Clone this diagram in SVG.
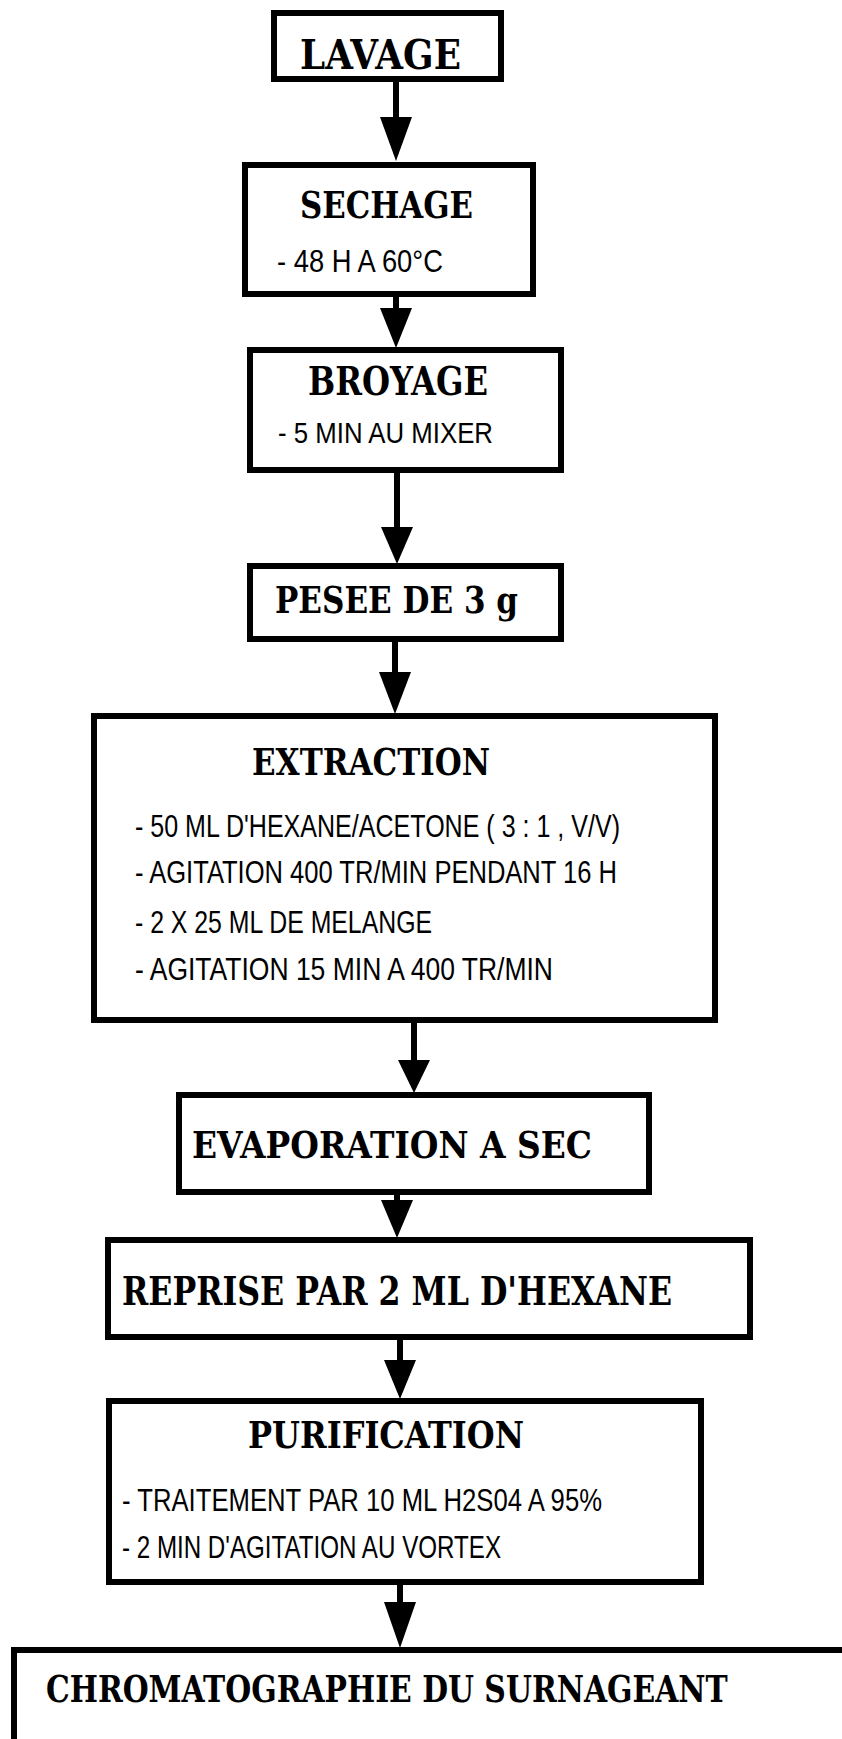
<svg xmlns="http://www.w3.org/2000/svg" width="842" height="1739" viewBox="0 0 842 1739">
<style>
.box{fill:#fff;stroke:#000;stroke-width:6}
.t{font-family:"DejaVu Serif","Liberation Serif",serif;font-weight:bold;fill:#000}
.b{font-family:"Liberation Sans","DejaVu Sans",sans-serif;font-weight:normal;fill:#000}
.ln{stroke:#000;stroke-width:6;fill:none}
.hd{fill:#000}
</style>
<rect x="0" y="0" width="842" height="1739" fill="#fff"/>
<g id="connectors">
<line class="ln" x1="396" y1="82" x2="396" y2="120"/><polygon class="hd" points="380,117 412,117 396,161"/>
<line class="ln" x1="396" y1="297" x2="396" y2="311"/><polygon class="hd" points="380,308 412,308 396,348"/>
<line class="ln" x1="397" y1="473" x2="397" y2="530"/><polygon class="hd" points="381,527 413,527 397,564"/>
<line class="ln" x1="395" y1="642" x2="395" y2="675"/><polygon class="hd" points="379,672 411,672 395,714"/>
<line class="ln" x1="414" y1="1023" x2="414" y2="1063"/><polygon class="hd" points="398,1060 430,1060 414,1093"/>
<line class="ln" x1="397" y1="1195" x2="397" y2="1203"/><polygon class="hd" points="381,1200 413,1200 397,1238"/>
<line class="ln" x1="400" y1="1340" x2="400" y2="1363"/><polygon class="hd" points="384,1360 416,1360 400,1399"/>
<line class="ln" x1="400" y1="1585" x2="400" y2="1605"/><polygon class="hd" points="384,1602 416,1602 400,1648"/>
</g>
<g id="lavage">
<rect class="box" x="274" y="13" width="227" height="66"/>
<text class="t" x="300" y="69" font-size="41" textLength="161" lengthAdjust="spacingAndGlyphs">LAVAGE</text>
</g>
<g id="sechage">
<rect class="box" x="245" y="165" width="288" height="129"/>
<text class="t" x="300" y="218" font-size="38" textLength="173" lengthAdjust="spacingAndGlyphs">SECHAGE</text>
<text class="b" x="277" y="272" font-size="31" textLength="166" lengthAdjust="spacingAndGlyphs">- 48 H A 60°C</text>
</g>
<g id="broyage">
<rect class="box" x="250" y="350" width="311" height="120"/>
<text class="t" x="308" y="395" font-size="40" textLength="180" lengthAdjust="spacingAndGlyphs">BROYAGE</text>
<text class="b" x="278" y="443" font-size="30" textLength="215" lengthAdjust="spacingAndGlyphs">- 5 MIN AU MIXER</text>
</g>
<g id="pesee">
<rect class="box" x="250" y="566" width="311" height="73"/>
<text class="t" x="275" y="613" font-size="37" textLength="243" lengthAdjust="spacingAndGlyphs">PESEE DE 3 g</text>
</g>
<g id="extraction">
<rect class="box" x="94" y="716" width="621" height="304"/>
<text class="t" x="252" y="775" font-size="38" textLength="238" lengthAdjust="spacingAndGlyphs">EXTRACTION</text>
<text class="b" x="135" y="837" font-size="31" textLength="485" lengthAdjust="spacingAndGlyphs">- 50 ML D'HEXANE/ACETONE ( 3 : 1 , V/V)</text>
<text class="b" x="135" y="883" font-size="31" textLength="482" lengthAdjust="spacingAndGlyphs">- AGITATION 400 TR/MIN PENDANT 16 H</text>
<text class="b" x="135" y="933" font-size="31" textLength="297" lengthAdjust="spacingAndGlyphs">- 2 X 25 ML DE MELANGE</text>
<text class="b" x="135" y="980" font-size="31" textLength="418" lengthAdjust="spacingAndGlyphs">- AGITATION 15 MIN A 400 TR/MIN</text>
</g>
<g id="evaporation">
<rect class="box" x="179" y="1095" width="470" height="97"/>
<text class="t" x="192" y="1158" font-size="38" textLength="400" lengthAdjust="spacingAndGlyphs">EVAPORATION A SEC</text>
</g>
<g id="reprise">
<rect class="box" x="108" y="1240" width="642" height="97"/>
<text class="t" x="122" y="1305" font-size="40" textLength="550" lengthAdjust="spacingAndGlyphs">REPRISE PAR 2 ML D'HEXANE</text>
</g>
<g id="purification">
<rect class="box" x="109" y="1401" width="592" height="181"/>
<text class="t" x="248" y="1448" font-size="38" textLength="276" lengthAdjust="spacingAndGlyphs">PURIFICATION</text>
<text class="b" x="122" y="1511" font-size="31" textLength="480" lengthAdjust="spacingAndGlyphs">- TRAITEMENT PAR 10 ML H2S04 A 95%</text>
<text class="b" x="122" y="1558" font-size="31" textLength="379" lengthAdjust="spacingAndGlyphs">- 2 MIN D'AGITATION AU VORTEX</text>
</g>
<g id="chromatographie">
<path class="box" d="M14,1739 V1650 H842"/>
<text class="t" transform="translate(46,1702) scale(0.78,1)" x="0" y="0" font-size="38" textLength="874" lengthAdjust="spacingAndGlyphs">CHROMATOGRAPHIE DU SURNAGEANT</text>
</g>
</svg>
